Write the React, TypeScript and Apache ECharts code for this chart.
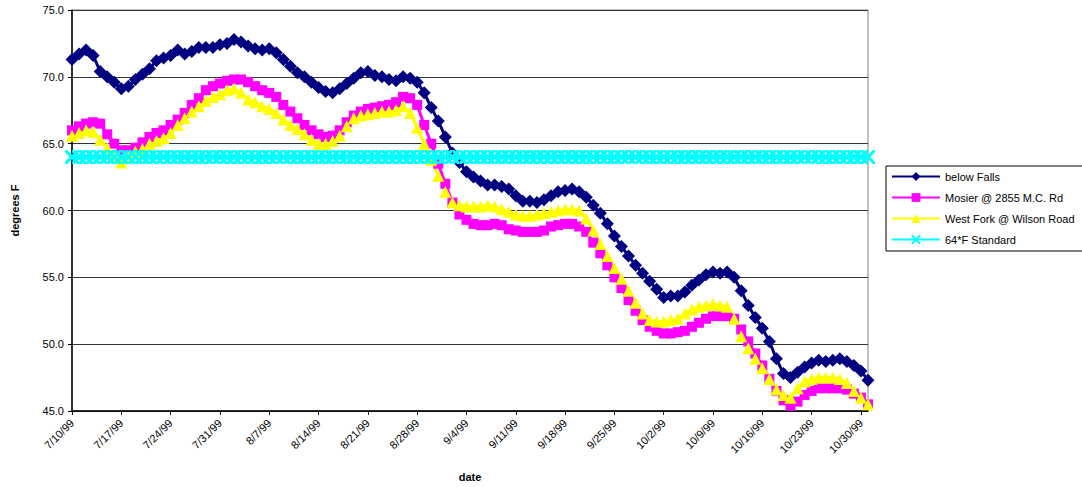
import React, { useEffect, useRef } from "react";
import * as echarts from "echarts";

// daily dates 7/10/99 .. 10/31/99
const START = { year: 1999, month: 7, day: 10 };
const DAY_COUNT = 114;
const categories: string[] = (() => {
  const out: string[] = [];
  const d = new Date(START.year, START.month - 1, START.day);
  for (let i = 0; i < DAY_COUNT; i++) {
    out.push(`${d.getMonth() + 1}/${d.getDate()}/99`);
    d.setDate(d.getDate() + 1);
  }
  return out;
})();

const seriesNames = [
  "below Falls",
  "Mosier @ 2855 M.C. Rd",
  "West Fork @ Wilson Road",
  "64*F Standard",
];

const belowFalls = [
  71.3, 71.7, 72.0, 71.6, 70.4, 70.0, 69.6, 69.1, 69.3, 69.8,
  70.2, 70.6, 71.2, 71.4, 71.6, 72.0, 71.7, 71.9, 72.2, 72.2,
  72.2, 72.4, 72.5, 72.8, 72.6, 72.3, 72.1, 72.0, 72.1, 71.8,
  71.3, 70.8, 70.3, 70.0, 69.6, 69.2, 68.9, 68.8, 69.1, 69.5,
  69.9, 70.3, 70.4, 70.1, 70.0, 69.8, 69.7, 70.0, 69.9, 69.6,
  68.8, 67.7, 66.7, 65.5, 64.3, 63.6, 62.9, 62.5, 62.2, 61.9,
  61.9, 61.8, 61.6, 61.1, 60.7, 60.7, 60.6, 60.8, 61.1, 61.4,
  61.5, 61.6, 61.4, 61.0, 60.4, 59.8, 59.0, 58.1, 57.3, 56.6,
  55.9, 55.3, 54.7, 54.1, 53.5, 53.6, 53.6, 53.9, 54.4, 54.8,
  55.2, 55.4, 55.3, 55.4, 55.0, 54.0, 52.9, 52.0, 51.2, 50.2,
  48.9, 47.8, 47.5, 47.9, 48.3, 48.6, 48.8, 48.7, 48.8, 48.9,
  48.7, 48.4, 48.0, 47.3,
];

const mosier = [
  66.0, 66.3, 66.5, 66.6, 66.5, 65.7, 65.0, 64.5, 64.5, 64.7,
  65.1, 65.5, 65.8, 66.0, 66.4, 66.8, 67.3, 67.9, 68.4, 69.0,
  69.3, 69.5, 69.7, 69.8, 69.8, 69.6, 69.3, 69.0, 68.8, 68.5,
  67.9, 67.4, 66.9, 66.4, 66.0, 65.7, 65.5, 65.6, 66.0, 66.6,
  67.1, 67.4, 67.6, 67.7, 67.8, 67.9, 68.1, 68.5, 68.4, 67.9,
  66.4, 65.0, 63.5, 62.0, 60.6, 59.7, 59.3, 59.0, 58.9, 58.9,
  59.0, 58.9, 58.6, 58.5, 58.4, 58.4, 58.4, 58.5, 58.8, 58.9,
  59.0, 59.0, 58.8, 58.4, 57.6, 56.8, 55.9, 55.0, 54.2, 53.3,
  52.5, 51.8, 51.3, 51.0, 50.8, 50.8, 50.9, 51.0, 51.3, 51.6,
  51.9, 52.1, 52.1, 52.1, 51.9, 51.1, 50.2, 49.3, 48.4, 47.4,
  46.5, 45.8, 45.4, 45.7, 46.2, 46.5, 46.7, 46.7, 46.7, 46.7,
  46.6, 46.3, 46.0, 45.5,
];

const westFork = [
  65.6, 65.8, 66.0, 65.9, 65.3, 64.7, 64.1, 63.6, 64.0, 64.4,
  64.6, 65.0, 65.2, 65.4, 65.8, 66.4, 66.9, 67.4, 67.8, 68.2,
  68.5, 68.7, 69.0, 69.1, 68.8, 68.3, 68.1, 67.8, 67.6, 67.3,
  66.8, 66.4, 66.1, 65.7, 65.3, 65.0, 65.0, 65.2, 65.6, 66.3,
  66.9, 67.1, 67.2, 67.3, 67.4, 67.4, 67.5, 67.8, 67.3, 66.2,
  65.0, 63.8, 62.6, 61.4, 60.6, 60.4, 60.3, 60.3, 60.3, 60.4,
  60.3, 60.1, 59.9, 59.7, 59.6, 59.6, 59.7, 59.8, 59.9, 60.0,
  60.1, 60.1, 60.0, 59.4, 58.5, 57.5, 56.6, 55.7, 54.9, 54.0,
  53.1, 52.3, 51.8, 51.7, 51.7, 51.8, 51.9, 52.3, 52.6, 52.8,
  52.9, 53.0, 52.9, 52.8, 51.9, 50.6, 49.7, 48.9, 48.2, 47.4,
  46.6, 46.2, 46.0, 46.7, 47.2, 47.4, 47.5, 47.5, 47.5, 47.4,
  47.1, 46.5, 46.0, 45.5,
];

const STANDARD_F = 64;
const standard = categories.map(() => STANDARD_F);

const Y_MIN = 45;
const Y_MAX = 75;
const Y_STEP = 5;

const FONT = "'Liberation Sans', Arial, sans-serif";
const X_MARK =
  "path://M0,0L1.6,0L5,3.4L8.4,0L10,0L10,1.6L6.6,5L10,8.4L10,10L8.4,10L5,6.6L1.6,10L0,10L0,8.4L3.4,5L0,1.6Z";

export default function App() {
  const ref = useRef<HTMLDivElement>(null);
  useEffect(() => {
    if (!ref.current) return;
    const chart = echarts.init(ref.current, null, { renderer: "svg" });
    chart.setOption({
      animation: false,
      backgroundColor: "#ffffff",
      textStyle: { fontFamily: FONT, color: "#000" },
      grid: {
        left: 72,
        top: 10,
        right: 214,
        bottom: 75,
        show: true,
        borderColor: "#808080",
        borderWidth: 1,
      },
      legend: {
        orient: "vertical",
        left: 886,
        top: 166,
        itemWidth: 48,
        itemHeight: 11,
        itemGap: 10,
        padding: [5, 18, 6, 5],
        borderColor: "#000",
        borderWidth: 1,
        textStyle: { fontSize: 11, color: "#000", fontFamily: FONT },
        data: seriesNames,
      },
      xAxis: {
        type: "category",
        data: categories,
        boundaryGap: false,
        name: "date",
        nameLocation: "middle",
        nameGap: 60,
        nameTextStyle: { fontWeight: "bold", fontSize: 11, color: "#000", fontFamily: FONT },
        axisLine: { lineStyle: { color: "#000", width: 1.5 } },
        axisTick: { interval: 6, length: 4, lineStyle: { color: "#000" } },
        axisLabel: { interval: 6, rotate: 45, fontSize: 11, color: "#000", margin: 10, fontFamily: FONT },
        splitLine: { show: false },
      },
      yAxis: {
        type: "value",
        min: Y_MIN,
        max: Y_MAX,
        interval: Y_STEP,
        name: "degrees F",
        nameLocation: "middle",
        nameGap: 52,
        nameTextStyle: { fontWeight: "bold", fontSize: 11, color: "#000", fontFamily: FONT },
        axisLine: { show: true, lineStyle: { color: "#000", width: 1.5 } },
        axisTick: { show: true, length: 4, lineStyle: { color: "#000" } },
        axisLabel: {
          fontSize: 11,
          color: "#000",
          margin: 8,
          fontFamily: FONT,
          formatter: (v: number) => v.toFixed(1),
        },
        splitLine: { show: true, lineStyle: { color: "#333", width: 1 } },
      },
      series: [
        {
          name: seriesNames[0],
          type: "line",
          data: belowFalls,
          symbol: "diamond",
          symbolSize: 13,
          showAllSymbol: true,
          itemStyle: { color: "#000080" },
          lineStyle: { color: "#000080", width: 3 },
        },
        {
          name: seriesNames[1],
          type: "line",
          data: mosier,
          symbol: "rect",
          symbolSize: 10,
          showAllSymbol: true,
          itemStyle: { color: "#FF00FF" },
          lineStyle: { color: "#FF00FF", width: 3 },
        },
        {
          name: seriesNames[2],
          type: "line",
          data: westFork,
          symbol: "triangle",
          symbolSize: 12,
          showAllSymbol: true,
          itemStyle: { color: "#FFFF00" },
          lineStyle: { color: "#FFFF00", width: 3 },
        },
        {
          name: seriesNames[3],
          type: "line",
          data: standard,
          symbol: X_MARK,
          symbolSize: 14,
          showAllSymbol: true,
          itemStyle: { color: "#00FFFF" },
          lineStyle: { color: "#00FFFF", width: 3 },
        },
      ],
    });
    return () => chart.dispose();
  }, []);
  return (
    <div
      ref={ref}
      style={{ position: "fixed", left: 0, top: 0, width: 1082, height: 487, background: "#fff" }}
    />
  );
}
